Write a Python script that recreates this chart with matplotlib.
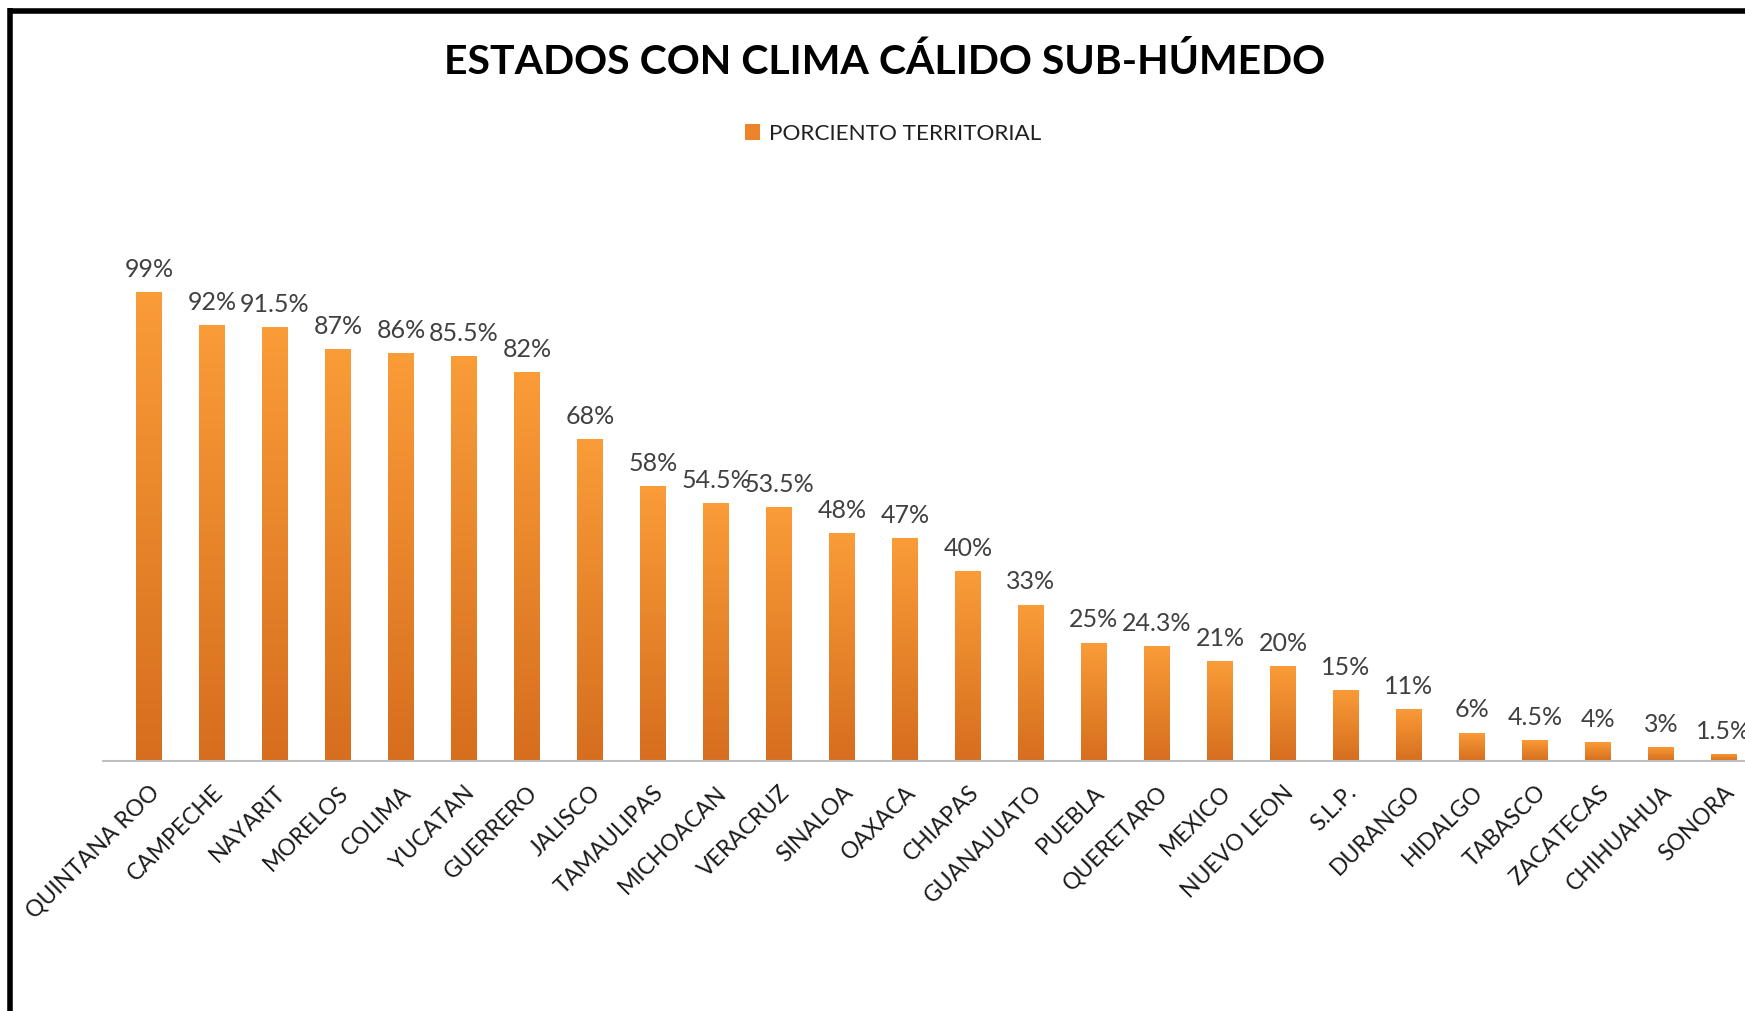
import numpy as np
import matplotlib
matplotlib.use("Agg")
import matplotlib.pyplot as plt
from matplotlib.lines import Line2D
from matplotlib.colors import LinearSegmentedColormap

states = ["QUINTANA ROO", "CAMPECHE", "NAYARIT", "MORELOS", "COLIMA", "YUCATAN",
          "GUERRERO", "JALISCO", "TAMAULIPAS", "MICHOACAN", "VERACRUZ", "SINALOA",
          "OAXACA", "CHIAPAS", "GUANAJUATO", "PUEBLA", "QUERETARO", "MEXICO",
          "NUEVO LEON", "S.L.P.", "DURANGO", "HIDALGO", "TABASCO", "ZACATECAS",
          "CHIHUAHUA", "SONORA"]
values = [99, 92, 91.5, 87, 86, 85.5, 82, 68, 58, 54.5, 53.5, 48, 47, 40, 33,
          25, 24.3, 21, 20, 15, 11, 6, 4.5, 4, 3, 1.5]
value_labels = ["99%", "92%", "91.5%", "87%", "86%", "85.5%", "82%", "68%", "58%",
                "54.5%", "53.5%", "48%", "47%", "40%", "33%", "25%", "24.3%", "21%",
                "20%", "15%", "11%", "6%", "4.5%", "4%", "3%", "1.5%"]
series_name = "PORCIENTO TERRITORIAL"
title = "ESTADOS CON CLIMA CÁLIDO SUB-HÚMEDO"

plt.rcParams['font.family'] = ['Lato', 'DejaVu Sans']

W, H = 1745, 1011
fig = plt.figure(figsize=(W / 100, H / 100), dpi=100)
fig.patch.set_facecolor('white')

base_px = 761
top_px = 200
left_px = 103
ax = fig.add_axes([left_px / W, 1 - base_px / H, 1 - left_px / W, (base_px - top_px) / H])

x = np.arange(len(states))
top_col = "#FA9C38"
bot_col = "#D66E1E"
bars = ax.bar(x, values, width=0.41, color="#EE8429", label=series_name, zorder=2)

cmap = LinearSegmentedColormap.from_list("g", [bot_col, top_col])
grad = np.linspace(0, 1, 256).reshape(-1, 1)
for b in bars:
    x0, w, h = b.get_x(), b.get_width(), b.get_height()
    im = ax.imshow(grad, cmap=cmap, origin="lower", aspect="auto",
                   extent=(x0, x0 + w, 0, h), zorder=3)
    im.set_clip_path(b)

for xi, v, lab in zip(x, values, value_labels):
    ax.annotate(lab, (xi, v), xytext=(0, 8), textcoords="offset points",
                ha="center", va="bottom", fontsize=18, color="#404040")

ymax = (base_px - top_px) / 4.74
ax.set_xlim(-0.73, 25 + (W - 1724) / 63.0)
ax.set_ylim(0, ymax)
ax.set_xticks(x)
ax.set_xticklabels(states, rotation=45, ha="right", rotation_mode="anchor",
                   fontsize=16.5, color="#1a1a1a")
ax.tick_params(axis="x", length=0, pad=15)
ax.set_yticks([])
for s in ["top", "right", "left"]:
    ax.spines[s].set_visible(False)
ax.spines["bottom"].set_color("#BFBFBF")
ax.spines["bottom"].set_linewidth(1.5)
ax.spines["bottom"].set_zorder(4)

fig.text(885 / W, 1 - 62 / H, title, ha="center", va="center",
         fontsize=29.5, fontweight="bold", color="black")

fig.legend(handles=[bars], labels=[series_name], loc="center",
           bbox_to_anchor=(893 / W, 1 - 134 / H), frameon=False,
           handlelength=0.7, handleheight=0.7, handletextpad=0.4,
           fontsize=16.2, labelcolor="#202020")

fig.add_artist(Line2D([10 / W, 10 / W], [0, 1 - 8 / H], transform=fig.transFigure,
                      color="black", lw=4, solid_capstyle="butt"))
fig.add_artist(Line2D([7.5 / W, 1], [1 - 11 / H, 1 - 11 / H], transform=fig.transFigure,
                      color="black", lw=4, solid_capstyle="butt"))

fig.savefig("out.png", dpi=100)
